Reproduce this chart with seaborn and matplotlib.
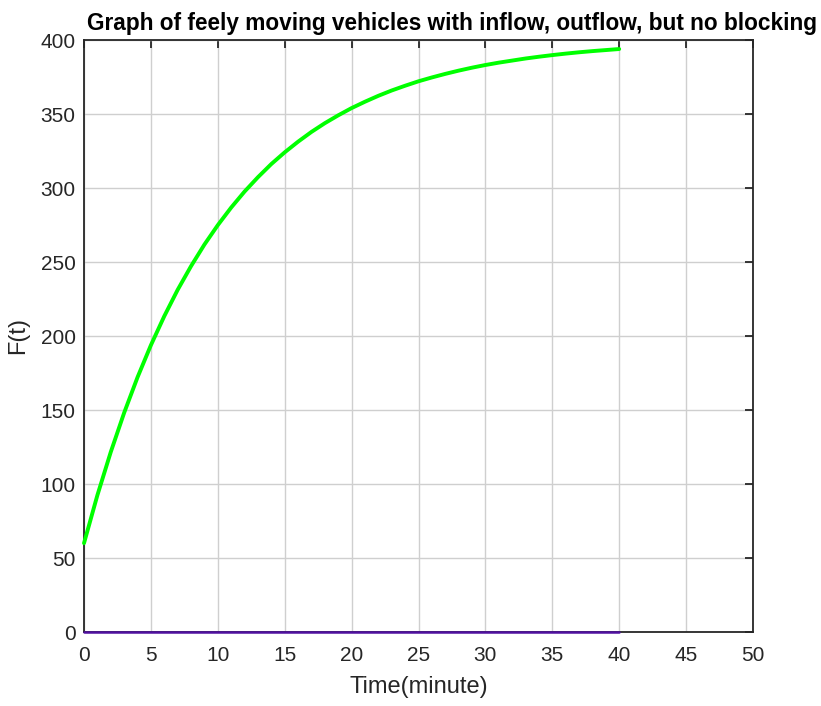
import matplotlib
matplotlib.use("Agg")
import matplotlib.pyplot as plt
import seaborn as sns
import pandas as pd

# Data
time_min = [0, 1, 2, 3, 4, 5, 6, 7, 8, 9, 10, 11, 12, 13, 14, 15, 16, 17, 18, 19, 20,
            21, 22, 23, 24, 25, 26, 27, 28, 29, 30, 31, 32, 33, 34, 35, 36, 37, 38, 39, 40]
free_moving = [60.0, 92.4, 121.6, 148.1, 172.1, 193.8, 213.4, 231.2, 247.2, 261.8, 274.9,
               286.8, 297.6, 307.3, 316.2, 324.1, 331.3, 337.9, 343.8, 349.1, 354.0,
               358.3, 362.3, 365.9, 369.1, 372.1, 374.7, 377.1, 379.3, 381.3, 383.1,
               384.7, 386.1, 387.5, 388.7, 389.8, 390.8, 391.7, 392.5, 393.2, 393.9]
blocked = [0] * len(time_min)

x_ticks = [0, 5, 10, 15, 20, 25, 30, 35, 40, 45, 50]
y_ticks = [0, 50, 100, 150, 200, 250, 300, 350, 400]

title = "Graph of feely moving vehicles with inflow, outflow, but no blocking"
xlabel = "Time(minute)"
ylabel = "F(t)"

df = pd.DataFrame({"t": time_min, "F": free_moving, "B": blocked})

sns.set_theme(style="white")
plt.rcParams['font.family'] = ['Liberation Sans', 'DejaVu Sans']

fig = plt.figure(figsize=(8.21, 7.06), dpi=100)
ax = fig.add_axes([84/821, 1 - 632/706, (753-84)/821, (632-40)/706])

sns.lineplot(data=df, x="t", y="F", ax=ax, color="#00ff00", linewidth=2.8)
sns.lineplot(data=df, x="t", y="B", ax=ax, color="#5010a0", linewidth=1.8)
for ln in ax.lines:
    ln.set_clip_on(False)
    ln.set_zorder(5)

ax.set_xlim(0, 50)
ax.set_ylim(0, 400)
ax.set_xticks(x_ticks)
ax.set_yticks(y_ticks)
ax.grid(True, color="#cfcfcf", linewidth=1.0)
ax.set_axisbelow(True)

for s in ax.spines.values():
    s.set_visible(True)
    s.set_color("#262626")
    s.set_linewidth(1.3)
    s.set_zorder(4)

ax.tick_params(axis="both", direction="in", length=6, width=1.3, color="#262626",
               top=True, right=True, labelsize=15, labelcolor="#262626")
ax.tick_params(axis="x", pad=10)
ax.tick_params(axis="y", pad=6)

ax.set_xlabel(xlabel, fontsize=17, color="#262626", labelpad=8)
ax.set_ylabel(ylabel, fontsize=17, color="#262626", labelpad=8)
ax.set_title(title, fontsize=16.3, fontweight="bold", color="black", pad=7, x=0.55)

fig.savefig("out.png", dpi=100)
